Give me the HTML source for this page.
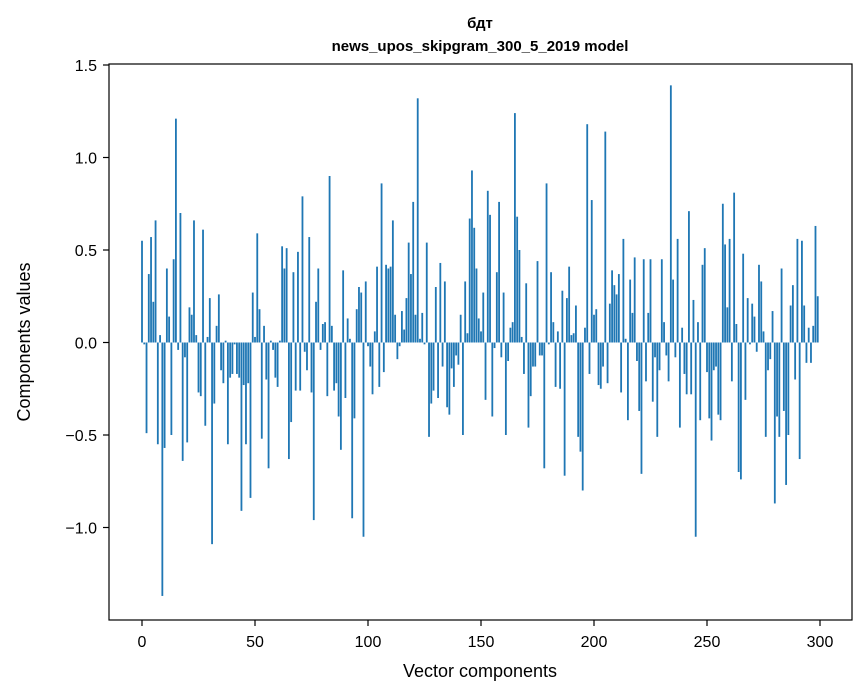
<!DOCTYPE html>
<html><head><meta charset="utf-8">
<style>
html,body{margin:0;padding:0;background:#fff;}
svg{display:block;font-family:"Liberation Sans","DejaVu Sans",sans-serif;}
</style></head>
<body>
<svg id="chart" width="867" height="696" viewBox="0 0 867 696">
  <rect width="867" height="696" fill="#fff"/>
  <text x="480" y="28" text-anchor="middle" font-size="15" font-weight="bold">бдт</text>
  <text x="480" y="51" text-anchor="middle" font-size="15" font-weight="bold">news_upos_skipgram_300_5_2019 model</text>
  <g id="bars"></g>
  <g id="xticks"></g>
  <g id="yticks"></g>
  <rect x="109" y="64" width="743" height="556" fill="none" stroke="#000" stroke-width="1.2"/>
  <text x="480" y="677" text-anchor="middle" font-size="18">Vector components</text>
  <text transform="translate(30,342) rotate(-90)" text-anchor="middle" font-size="18">Components values</text>
</svg>
<script>
const values = [
0.55,-0.01,-0.49,0.37,0.57,0.22,0.66,-0.55,0.04,-1.37,
-0.57,0.40,0.14,-0.50,0.45,1.21,-0.04,0.70,-0.64,-0.08,
-0.54,0.19,0.15,0.66,0.04,-0.27,-0.29,0.61,-0.45,0.03,
0.24,-1.09,-0.33,0.09,0.26,-0.15,-0.22,0.01,-0.55,-0.19,
-0.17,-0.01,-0.17,-0.19,-0.91,-0.23,-0.55,-0.22,-0.84,0.27,
0.03,0.59,0.18,-0.52,0.09,-0.20,-0.68,0.01,-0.04,-0.19,
-0.24,0.01,0.52,0.40,0.51,-0.63,-0.43,0.38,-0.26,0.49,
-0.26,0.79,-0.05,-0.15,0.57,-0.27,-0.96,0.22,0.40,-0.04,
0.10,0.11,-0.29,0.90,0.09,-0.26,-0.22,-0.40,-0.58,0.39,
-0.30,0.13,0.02,-0.95,-0.41,0.18,0.30,0.27,-1.05,0.33,
-0.02,-0.13,-0.28,0.06,0.41,-0.24,0.86,-0.16,0.42,0.40,
0.41,0.66,0.15,-0.09,-0.02,0.17,0.07,0.24,0.54,0.37,
0.76,0.15,1.32,0.02,0.16,-0.01,0.54,-0.51,-0.33,-0.26,
0.30,-0.30,0.43,-0.13,0.33,-0.35,-0.39,-0.14,-0.24,-0.07,
-0.12,0.15,-0.50,0.33,0.05,0.67,0.93,0.62,0.40,0.13,
0.06,0.27,-0.31,0.82,0.69,-0.40,-0.03,0.38,0.76,-0.08,
0.27,-0.50,-0.10,0.08,0.11,1.24,0.68,0.50,0.03,-0.17,
0.32,-0.46,-0.29,-0.13,-0.13,0.44,-0.07,-0.07,-0.68,0.86,
-0.01,0.38,0.11,-0.24,0.06,-0.25,0.28,-0.72,0.24,0.41,
0.04,0.05,0.20,-0.51,-0.59,-0.80,0.08,1.18,-0.17,0.77,
0.15,0.18,-0.23,-0.25,-0.13,1.14,-0.22,0.21,0.39,0.31,
0.26,0.37,-0.27,0.56,0.02,-0.42,0.34,0.16,0.46,-0.10,
-0.37,-0.71,0.45,-0.21,0.16,0.45,-0.32,-0.08,-0.51,-0.15,
0.45,0.11,-0.07,-0.21,1.39,0.34,-0.08,0.56,-0.46,0.08,
-0.17,-0.28,0.71,-0.28,0.23,-1.05,0.11,-0.42,0.42,0.51,
-0.16,-0.41,-0.53,-0.15,-0.13,-0.39,-0.42,0.75,0.53,0.19,
0.56,-0.21,0.81,0.10,-0.70,-0.74,0.48,-0.31,0.24,-0.01,
0.21,0.14,-0.05,0.42,0.33,0.06,-0.51,-0.15,-0.09,0.17,
-0.87,-0.40,-0.51,0.40,-0.37,-0.77,-0.50,0.20,0.31,-0.20,
0.56,-0.63,0.55,0.20,-0.11,0.08,-0.11,0.09,0.63,0.25
];
const xTicks = [0,50,100,150,200,250,300];
const yTicks = [-1.0,-0.5,0.0,0.5,1.0,1.5];
const yTickLabels = ["\u22121.0","\u22120.5","0.0","0.5","1.0","1.5"];

const NS = "http://www.w3.org/2000/svg";
const X0 = 142, XU = 2.26;
const sx = v => X0 + v * XU;
const Y0 = 342.5, YU = 185;
const sy = v => Y0 - v * YU;

const barsG = document.getElementById('bars');
const bw = 0.8 * XU;
values.forEach((v, i) => {
  const r = document.createElementNS(NS, 'rect');
  const y1 = sy(Math.max(v, 0)), y2 = sy(Math.min(v, 0));
  r.setAttribute('x', (sx(i) - bw / 2).toFixed(2));
  r.setAttribute('y', y1.toFixed(2));
  r.setAttribute('width', bw.toFixed(2));
  r.setAttribute('height', Math.max(y2 - y1, 0.3).toFixed(2));
  r.setAttribute('fill', '#1f77b4');
  
  
  barsG.appendChild(r);
});

const xg = document.getElementById('xticks');
xTicks.forEach(t => {
  const l = document.createElementNS(NS, 'line');
  l.setAttribute('x1', sx(t)); l.setAttribute('x2', sx(t));
  l.setAttribute('y1', 620); l.setAttribute('y2', 626);
  l.setAttribute('stroke', '#000'); l.setAttribute('stroke-width', '1.2');
  
  
  xg.appendChild(l);
  const tx = document.createElementNS(NS, 'text');
  tx.setAttribute('x', sx(t)); tx.setAttribute('y', 647);
  tx.setAttribute('text-anchor', 'middle'); tx.setAttribute('font-size', '16');
  tx.textContent = String(t);
  
  
  xg.appendChild(tx);
});

const yg = document.getElementById('yticks');
yTicks.forEach((t, i) => {
  const l = document.createElementNS(NS, 'line');
  l.setAttribute('x1', 103); l.setAttribute('x2', 109);
  l.setAttribute('y1', sy(t)); l.setAttribute('y2', sy(t));
  l.setAttribute('stroke', '#000'); l.setAttribute('stroke-width', '1.2');
  
  
  yg.appendChild(l);
  const tx = document.createElementNS(NS, 'text');
  tx.setAttribute('x', 97); tx.setAttribute('y', sy(t) + 6);
  tx.setAttribute('text-anchor', 'end'); tx.setAttribute('font-size', '16');
  tx.textContent = yTickLabels[i];
  
  
  yg.appendChild(tx);
});
</script>
</body></html>
